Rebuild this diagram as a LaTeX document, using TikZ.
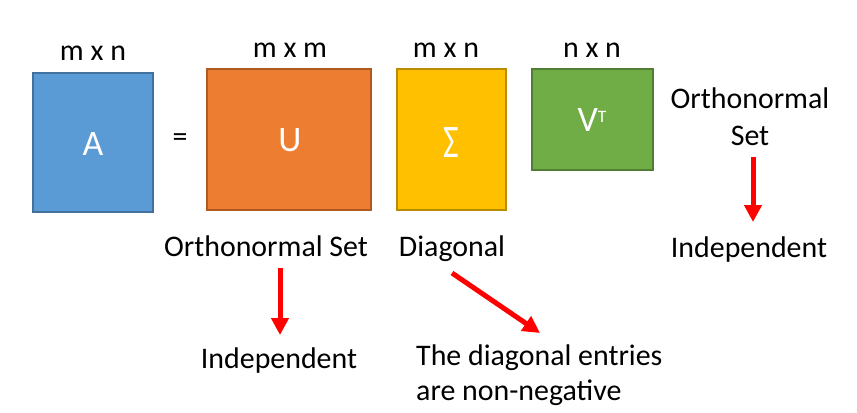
\documentclass[tikz,border=0pt]{standalone}
\usepackage{fontspec}
\setmainfont{Carlito}
\usetikzlibrary{arrows.meta}
\definecolor{ablue}{HTML}{5B9BD5}
\definecolor{abluedk}{HTML}{41719C}
\definecolor{uorange}{HTML}{ED7D31}
\definecolor{uorangedk}{HTML}{AE5A21}
\definecolor{syellow}{HTML}{FFC000}
\definecolor{syellowdk}{HTML}{BC8C00}
\definecolor{vgreen}{HTML}{70AD47}
\definecolor{vgreendk}{HTML}{507E32}
\definecolor{arrred}{HTML}{FF0000}
\begin{document}
\begin{tikzpicture}[x=1bp,y=-1bp,
  mbox/.style={draw, line width=2bp, inner sep=0pt},
  boxtxt/.style={text=white, inner sep=0pt, font=\fontsize{36}{40}\selectfont},
  lbl/.style={font=\fontsize{30}{36}\selectfont, inner sep=0pt, text=black},
  redarrow/.style={draw=arrred, line width=5bp,
                   -{Triangle[width=17bp,length=17bp]}}]
\useasboundingbox (0,0) rectangle (857,412);
% matrices
\node[mbox, fill=ablue, draw=abluedk, minimum width=120bp, minimum height=139bp] (A) at (93,142.5) {};
\node[mbox, fill=uorange, draw=uorangedk, minimum width=164bp, minimum height=141bp] (U) at (289,139.5) {};
\node[mbox, fill=syellow, draw=syellowdk, minimum width=109bp, minimum height=141bp] (S) at (451.5,139.5) {};
\node[mbox, fill=vgreen, draw=vgreendk, minimum width=121bp, minimum height=101bp] (V) at (592.5,119.5) {};
\node[boxtxt, anchor=base] (At) at (93,155) {A};
\node[boxtxt, anchor=base] (Ut) at (290,151.5) {U};
\node[boxtxt] (St) at (451.5,143) {\scalebox{0.95}[1.3]{Σ}};
\node[boxtxt, anchor=base] (Vt) at (592,131) {V\raisebox{9bp}{\fontsize{17.5}{18}\selectfont T}};
\node[lbl] (eq) at (180,140) {=};
% dimensions
\node[lbl, anchor=base] (dA) at (93,60) {m x n};
\node[lbl, anchor=base] (dU) at (290,57) {m x m};
\node[lbl, anchor=base] (dS) at (446,57) {m x n};
\node[lbl, anchor=base] (dV) at (592,57) {n x n};
% properties
\node[lbl, anchor=base] (oU) at (266,256) {Orthonormal Set};
\node[lbl, anchor=base] (iU) at (279,368) {Independent};
\node[lbl, anchor=base] (dg) at (452,256) {Diagonal};
\node[lbl, anchor=base west] (ne1) at (416,365) {The diagonal entries};
\node[lbl, anchor=base west] (ne2) at (416,400) {are non-negative};
\node[lbl, anchor=base] (oV1) at (750,108) {Orthonormal};
\node[lbl, anchor=base] (oV2) at (750,145) {Set};
\node[lbl, anchor=base] (iV) at (749,257) {Independent};
% arrow ends
\coordinate (aUs) at (280,268);
\coordinate (aUe) at (280,335);
\coordinate (aDs) at (452,273);
\coordinate (aDe) at (540,333);
\coordinate (aVs) at (753,157);
\coordinate (aVe) at (753,222);
\draw[redarrow] (aUs) -- (aUe);
\draw[redarrow] (aDs) -- (aDe);
\draw[redarrow] (aVs) -- (aVe);
\end{tikzpicture}
\end{document}
